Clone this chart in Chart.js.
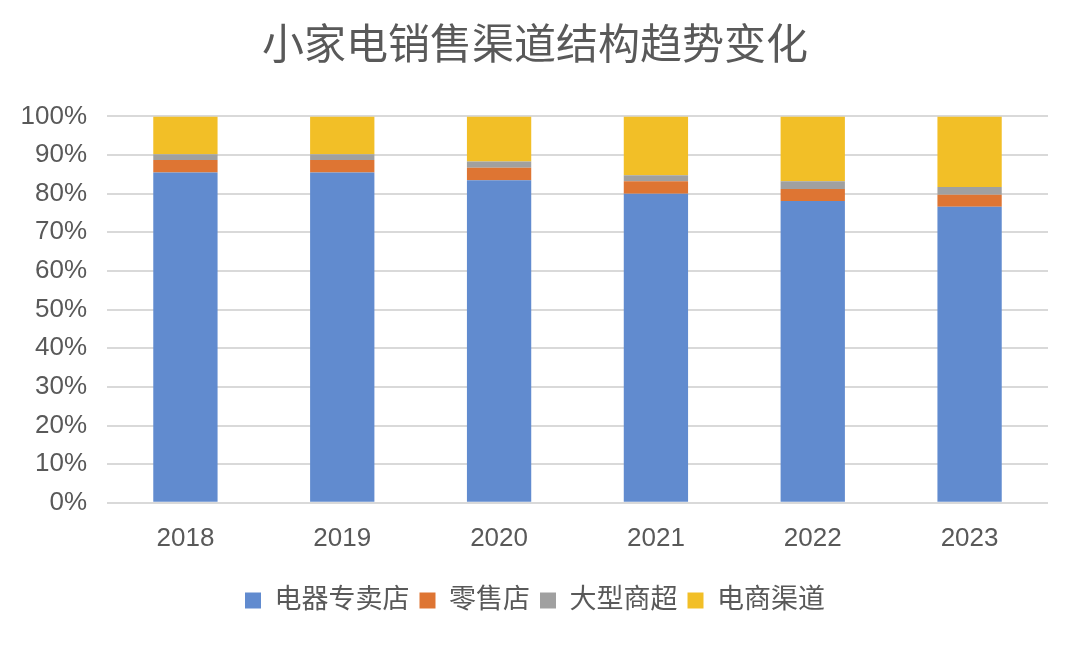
<!DOCTYPE html>
<html>
<head>
<meta charset="utf-8">
<script src="https://cdn.jsdelivr.net/npm/chart.js@4.4.1/dist/chart.umd.min.js"></script>
<style>
  html, body { margin: 0; padding: 0; background: #fff; }
  #wrap { width: 1080px; height: 648px; }
</style>
</head>
<body>
<div id="wrap"><canvas id="myChart" width="1080" height="648"></canvas></div>
<script>
const years = ['2018', '2019', '2020', '2021', '2022', '2023'];
const dianqi = [85.5, 85.5, 83.5, 80.0, 78.1, 76.6];   // 电器专卖店
const lingshou = [3.2, 3.2, 3.2, 3.2, 3.1, 3.1];       // 零售店
const shangchao = [1.5, 1.5, 1.6, 1.6, 2.0, 2.0];      // 大型商超
const dianshang = [9.8, 9.8, 11.7, 15.2, 16.8, 18.3];  // 电商渠道
const yTicks = [0, 10, 20, 30, 40, 50, 60, 70, 80, 90, 100];

const fontFamily = "'Liberation Sans', 'Noto Sans CJK SC', sans-serif";
const textColor = '#595959';

const bar = (label, values, color) => ({
  label: label,
  data: values,
  backgroundColor: color,
  borderWidth: 0,
  barPercentage: 0.41,
  categoryPercentage: 1.0
});

const config = {
  type: 'bar',
  data: {
    labels: years,
    datasets: [
      bar('电器专卖店', dianqi, '#618BCF'),
      bar('零售店', lingshou, '#DE7533'),
      bar('大型商超', shangchao, '#A0A0A0'),
      bar('电商渠道', dianshang, '#F2BF27')
    ]
  },
  options: {
    responsive: false,
    animation: false,
    layout: { padding: { left: 22, right: 32, top: 0, bottom: 24 } },
    plugins: {
      title: {
        display: true,
        text: '小家电销售渠道结构趋势变化',
        color: textColor,
        font: { family: fontFamily, size: 42, weight: 'normal' },
        padding: { top: 22, bottom: 44 }
      },
      legend: {
        position: 'bottom',
        labels: {
          color: textColor,
          font: { family: fontFamily, size: 27 },
          boxWidth: 16,
          boxHeight: 16,
          padding: 10
        }
      },
      tooltip: { enabled: false }
    },
    scales: {
      x: {
        stacked: true,
        grid: { display: false },
        border: { display: false },
        afterFit: (scale) => { scale.height += 11; },
        ticks: {
          color: textColor,
          font: { family: fontFamily, size: 26 },
          padding: 12
        }
      },
      y: {
        stacked: true,
        min: 0,
        max: 100,
        afterBuildTicks: (scale) => {
          scale.ticks = yTicks.map(v => ({ value: v }));
        },
        afterFit: (scale) => { scale.width = 85; },
        grid: { color: '#D9D9D9', lineWidth: 2, drawTicks: false },
        border: { display: false },
        ticks: {
          color: textColor,
          font: { family: fontFamily, size: 26 },
          padding: 20,
          callback: (v) => v + '%'
        }
      }
    }
  }
};

let myChart = new Chart(document.getElementById('myChart'), config);
</script>
</body>
</html>
